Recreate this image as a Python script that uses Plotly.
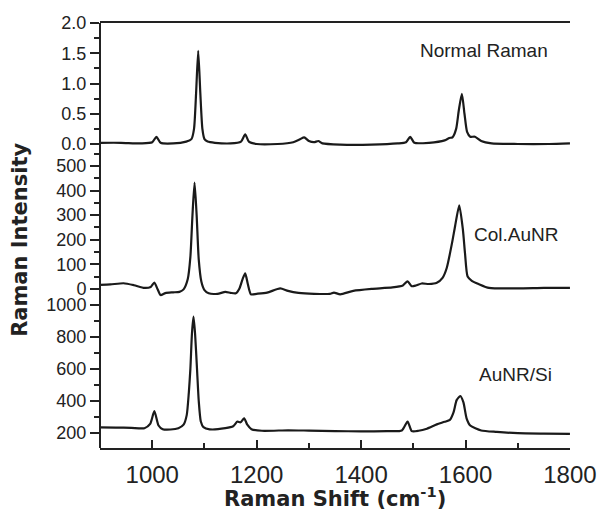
import plotly.graph_objects as go

# ---------------- data ----------------
normal_x = [900, 940, 980, 1000, 1008, 1016, 1040, 1065, 1075, 1080, 1084, 1088, 1092, 1096, 1100, 1106,
            1120, 1150, 1170, 1178, 1185, 1200, 1240, 1270, 1283, 1291, 1300, 1310, 1318, 1326, 1360,
            1420, 1470, 1486, 1494, 1502, 1530, 1560, 1569, 1575, 1582, 1587, 1593, 1598, 1603, 1609,
            1618, 1630, 1650, 1700, 1760, 1800]
normal_y = [0.02, 0.02, 0.01, 0.03, 0.12, 0.02, 0.01, 0.04, 0.08, 0.25, 0.85, 1.54, 0.85, 0.25, 0.08, 0.04,
            0.02, 0.01, 0.04, 0.16, 0.04, 0.0, 0.0, 0.03, 0.08, 0.11, 0.05, 0.03, 0.05, 0.01, -0.01,
            -0.01, 0.01, 0.03, 0.12, 0.02, 0.02, 0.06, 0.10, 0.11, 0.25, 0.55, 0.83, 0.50, 0.20, 0.12,
            0.12, 0.05, 0.01, 0.0, 0.0, 0.01]

col_x = [900, 920, 945, 965, 985, 997, 1004, 1010, 1016, 1025, 1040, 1052, 1060, 1068, 1073, 1077, 1081,
         1085, 1089, 1094, 1100, 1108, 1125, 1140, 1150, 1160, 1167, 1173, 1178, 1183, 1189, 1200, 1220,
         1245, 1260, 1280, 1310, 1340, 1348, 1360, 1385, 1420, 1460, 1480, 1489, 1497, 1505, 1516, 1530,
         1545, 1556, 1564, 1574, 1580, 1588, 1595, 1599, 1604, 1612, 1625, 1645, 1700, 1750, 1800]
col_y = [16, 18, 23, 15, 4, 8, 26, 0, -25, -17, -14, -12, -2, 40, 130, 300, 432,
         300, 120, 30, -5, -18, -20, -12, -16, -18, 2, 40, 63, 20, -22, -20, -15,
         2, -8, -16, -20, -20, -15, -22, -8, 0, 6, 14, 31, 11, 14, 22, 20,
         25, 45, 85, 185, 255, 340, 240, 145, 50, 33, 20, 4, 2, 4, 4]

si_x = [900, 930, 960, 985, 996, 1004, 1012, 1020, 1035, 1050, 1060, 1066, 1070, 1073, 1076, 1079, 1082,
        1086, 1089, 1093, 1098, 1110, 1140, 1155, 1163, 1169, 1176, 1182, 1190, 1210, 1260, 1300, 1350,
        1400, 1450, 1478, 1489, 1497, 1510, 1526, 1545, 1560, 1570, 1577, 1583, 1590, 1596, 1602, 1609,
        1630, 1660, 1700, 1750, 1800]
si_y = [233, 232, 230, 228, 255, 335, 245, 222, 220, 228, 250, 310, 450, 600, 820, 927, 820,
        580, 400, 270, 235, 221, 228, 240, 270, 265, 290, 250, 222, 212, 215, 213, 210,
        208, 210, 214, 270, 210, 212, 225, 252, 268, 280, 327, 404, 430, 390, 290, 245,
        214, 205, 197, 194, 192]

labels = ["Normal Raman", "Col.AuNR", "AuNR/Si"]
x_title = "Raman Shift (cm<sup>-1</sup>)"
y_title = "Raman Intensity"

# ---------------- figure ----------------
LINE = "#1a1a1a"
AX = "#222222"
TICKFONT_Y = dict(family="Liberation Sans, Arial, sans-serif", size=18, color="#222")
TICKFONT_X = dict(family="Liberation Sans, Arial, sans-serif", size=24, color="#222")

fig = go.Figure()
fig.add_trace(go.Scatter(x=si_x, y=si_y, mode="lines", xaxis="x", yaxis="y",
                         line=dict(color=LINE, width=2.2, shape="spline", smoothing=0.6),
                         name=labels[2], showlegend=False))
fig.add_trace(go.Scatter(x=col_x, y=col_y, mode="lines", xaxis="x2", yaxis="y2",
                         line=dict(color=LINE, width=2.2, shape="spline", smoothing=0.6),
                         name=labels[1], showlegend=False))
fig.add_trace(go.Scatter(x=normal_x, y=normal_y, mode="lines", xaxis="x3", yaxis="y3",
                         line=dict(color=LINE, width=2.2, shape="spline", smoothing=0.6),
                         name=labels[0], showlegend=False))

d_bot = [0, 0.35294]
d_mid = [0.35294, 0.71059]
d_top = [0.71059, 1.0]

yax_common = dict(showline=True, linecolor=AX, linewidth=2, mirror=True, ticks="outside",
                  ticklen=9, tickwidth=2, tickcolor=AX, showgrid=False, zeroline=False,
                  tickfont=TICKFONT_Y, anchor="free", position=0, automargin=False)

fig.update_layout(
    width=600, height=514,
    margin=dict(l=100, r=30, t=23, b=66, autoexpand=False),
    paper_bgcolor="white", plot_bgcolor="white",
    xaxis=dict(domain=[0, 1], anchor="y", range=[899.9, 1800.1], showline=True, linecolor=AX,
               linewidth=2, ticks="inside", ticklen=8, tickwidth=2, tickcolor=AX,
               tick0=1000, dtick=200, showgrid=False, zeroline=False, tickfont=TICKFONT_X,
               ticklabelstandoff=4, automargin=False,
               minor=dict(dtick=100, tick0=1000, ticks="inside", ticklen=5, tickwidth=2, tickcolor=AX)),
    xaxis2=dict(domain=[0, 1], anchor="y2", matches="x", showline=False, ticks="",
                showticklabels=False, showgrid=False, zeroline=False, automargin=False),
    xaxis3=dict(domain=[0, 1], anchor="y3", matches="x", side="top", showline=True, linecolor=AX,
                linewidth=2, ticks="", showticklabels=False, showgrid=False, zeroline=False,
                automargin=False),
    yaxis=dict(domain=d_bot, range=[104, 1044], tick0=200, dtick=200,
               minor=dict(dtick=100, ticks="outside", ticklen=5, tickwidth=2, tickcolor=AX),
               **yax_common),
    yaxis2=dict(domain=d_mid, range=[-37, 581], tick0=0, dtick=100,
                minor=dict(dtick=50, ticks="outside", ticklen=5, tickwidth=2, tickcolor=AX),
                **yax_common),
    yaxis3=dict(domain=d_top, range=[-0.033, 2.001], tick0=0, dtick=0.5, tickformat=".1f",
                minor=dict(dtick=0.25, ticks="outside", ticklen=5, tickwidth=2, tickcolor=AX),
                **yax_common),
)

ann_font = dict(family="Liberation Sans, Arial, sans-serif", size=19, color="#222")
fig.add_annotation(text=labels[0], xref="paper", yref="paper", x=0.817, y=0.935,
                   xanchor="center", yanchor="middle", showarrow=False, font=ann_font)
fig.add_annotation(text=labels[1], xref="paper", yref="paper", x=0.885, y=0.5035,
                   xanchor="center", yanchor="middle", showarrow=False, font=ann_font)
fig.add_annotation(text=labels[2], xref="paper", yref="paper", x=0.885, y=0.174,
                   xanchor="center", yanchor="middle", showarrow=False, font=ann_font)

title_font = dict(family="DejaVu Sans, Verdana, sans-serif", size=21, color="#222")
fig.add_annotation(text="<b>" + x_title + "</b>", xref="paper", yref="paper",
                   x=0.5, xanchor="center", y=-0.115, yanchor="middle", showarrow=False,
                   font=title_font)
fig.add_annotation(text="<b>" + y_title + "</b>", xref="paper", yref="paper",
                   x=-0.17, xanchor="center", y=0.49, yanchor="middle", textangle=-90,
                   showarrow=False, font=title_font)

fig.write_html("out.html")
